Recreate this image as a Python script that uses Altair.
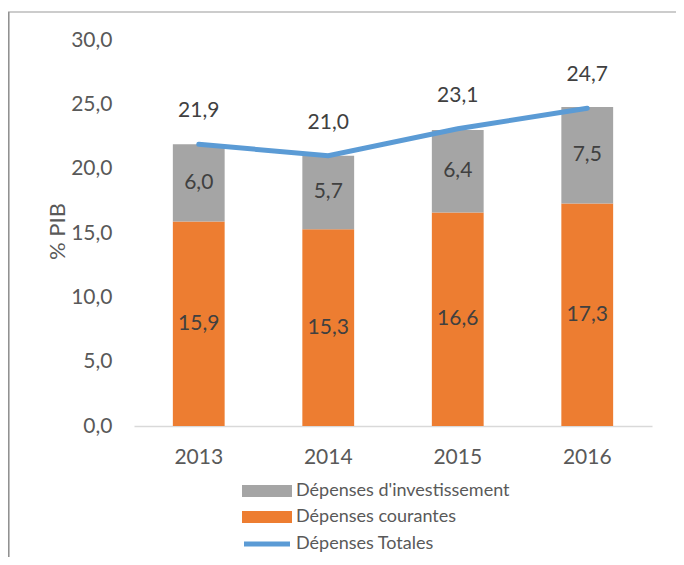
import altair as alt
import pandas as pd

years = ["2013", "2014", "2015", "2016"]
courantes = [15.9, 15.3, 16.6, 17.3]
investissement = [6.0, 5.7, 6.4, 7.5]
totales = [21.9, 21.0, 23.1, 24.7]
series = ["Dépenses d'investissement", "Dépenses courantes"]
line_name = "Dépenses Totales"
y_ticks = [0, 5, 10, 15, 20, 25, 30]

FONT = "Lato"
GREY_TXT = "#595959"
DARK_TXT = "#404040"

rows = []
for yr, c, i in zip(years, courantes, investissement):
    rows.append({"year": yr, "serie": series[1], "value": c, "ord": 0})
    rows.append({"year": yr, "serie": series[0], "value": i, "ord": 1})
bars_df = pd.DataFrame(rows)
line_df = pd.DataFrame({"year": years, "total": totales, "serie": [line_name] * len(years)})

fmt = "replace(format({v}, '.1f'), '.', ',')"

x_enc = alt.X(
    "year:N",
    sort=years,
    title=None,
    scale=alt.Scale(paddingInner=0.6, paddingOuter=0.3),
    axis=alt.Axis(
        labelAngle=0, labelFont=FONT, labelFontSize=21, labelColor=GREY_TXT,
        labelPadding=20, ticks=False, tickSize=0,
        domainColor="#D9D9D9", domainWidth=1.5, grid=False,
    ),
)

y_scale = alt.Scale(domain=[0, 30], nice=False)

base = alt.Chart(bars_df).transform_stack(
    stack="value", groupby=["year"], as_=["y0", "y1"], sort=[alt.SortField("ord")]
).transform_calculate(
    mid="(datum.y0 + datum.y1) / 2",
    lab=fmt.format(v="datum.value"),
)

bars = base.mark_bar().encode(
    x=x_enc,
    y=alt.Y(
        "y0:Q",
        scale=y_scale,
        axis=alt.Axis(
            title="% PIB", values=y_ticks,
            labelExpr=fmt.format(v="datum.value"),
            grid=False, domain=False, ticks=False, tickSize=0,
            labelPadding=22, labelFont=FONT, labelFontSize=21, labelColor=GREY_TXT,
            titleFont=FONT, titleFontSize=22, titleColor=GREY_TXT, titleFontWeight="normal",
            titleX=-77, titleY=191, titleAngle=270, titleAlign="center", titleBaseline="middle",
        ),
    ),
    y2="y1:Q",
    fill=alt.Fill(
        "serie:N",
        scale=alt.Scale(domain=series, range=["#A5A5A5", "#ED7D31"]),
        legend=alt.Legend(
            title=None, orient="none", legendX=104, legendY=442, padding=0,
            symbolType="M-1,-1.2H9V1.2H-1Z", symbolSize=100, symbolStrokeWidth=0,
            labelFont=FONT, labelFontSize=18, labelColor=GREY_TXT, labelOffset=40,
            labelLimit=400, rowPadding=8,
        ),
    ),
    order=alt.Order("ord:Q"),
)

bar_text = base.mark_text(font=FONT, fontSize=21, color=DARK_TXT, baseline="middle").encode(
    x=alt.X("year:N", sort=years),
    y=alt.Y("mid:Q", scale=y_scale),
    text="lab:N",
)

line_base = alt.Chart(line_df).transform_calculate(lab=fmt.format(v="datum.total"))

line = line_base.mark_line(strokeWidth=5, strokeCap="round").encode(
    x=alt.X("year:N", sort=years),
    y=alt.Y("total:Q", scale=y_scale),
    stroke=alt.Stroke(
        "serie:N",
        scale=alt.Scale(domain=[line_name], range=["#5B9BD5"]),
        legend=alt.Legend(
            title=None, orient="none", legendX=104, legendY=495, padding=0,
            symbolType="M-0.6,0H8.6", symbolSize=100, symbolStrokeWidth=5,
            labelFont=FONT, labelFontSize=18, labelColor=GREY_TXT, labelOffset=40,
            labelLimit=400,
        ),
    ),
)

line_text = line_base.mark_text(font=FONT, fontSize=21, color=DARK_TXT, baseline="middle", dy=-33).encode(
    x=alt.X("year:N", sort=years),
    y=alt.Y("total:Q", scale=y_scale),
    text="lab:N",
)

frame_df = pd.DataFrame({"k": [0]})
frame_left = alt.Chart(frame_df).mark_rule(color="#8C8C8C", strokeWidth=1.5).encode(
    x=alt.value(-125.2), y=alt.value(-28), y2=alt.value(521)
)
frame_top = alt.Chart(frame_df).mark_rule(color="#9A9A9A", strokeWidth=1.2).encode(
    x=alt.value(-126), x2=alt.value(542), y=alt.value(-28)
)

chart = alt.layer(bars, bar_text, line, line_text, frame_left, frame_top).resolve_scale(
    fill="independent", stroke="independent"
).properties(
    width=518, height=386,
    autosize="none",
    padding={"left": 126, "top": 32, "right": 24, "bottom": 131},
).configure(background="white").configure_view(stroke=None, strokeWidth=0)

chart.save("out.html", embed_options={"renderer": "svg", "actions": False})
